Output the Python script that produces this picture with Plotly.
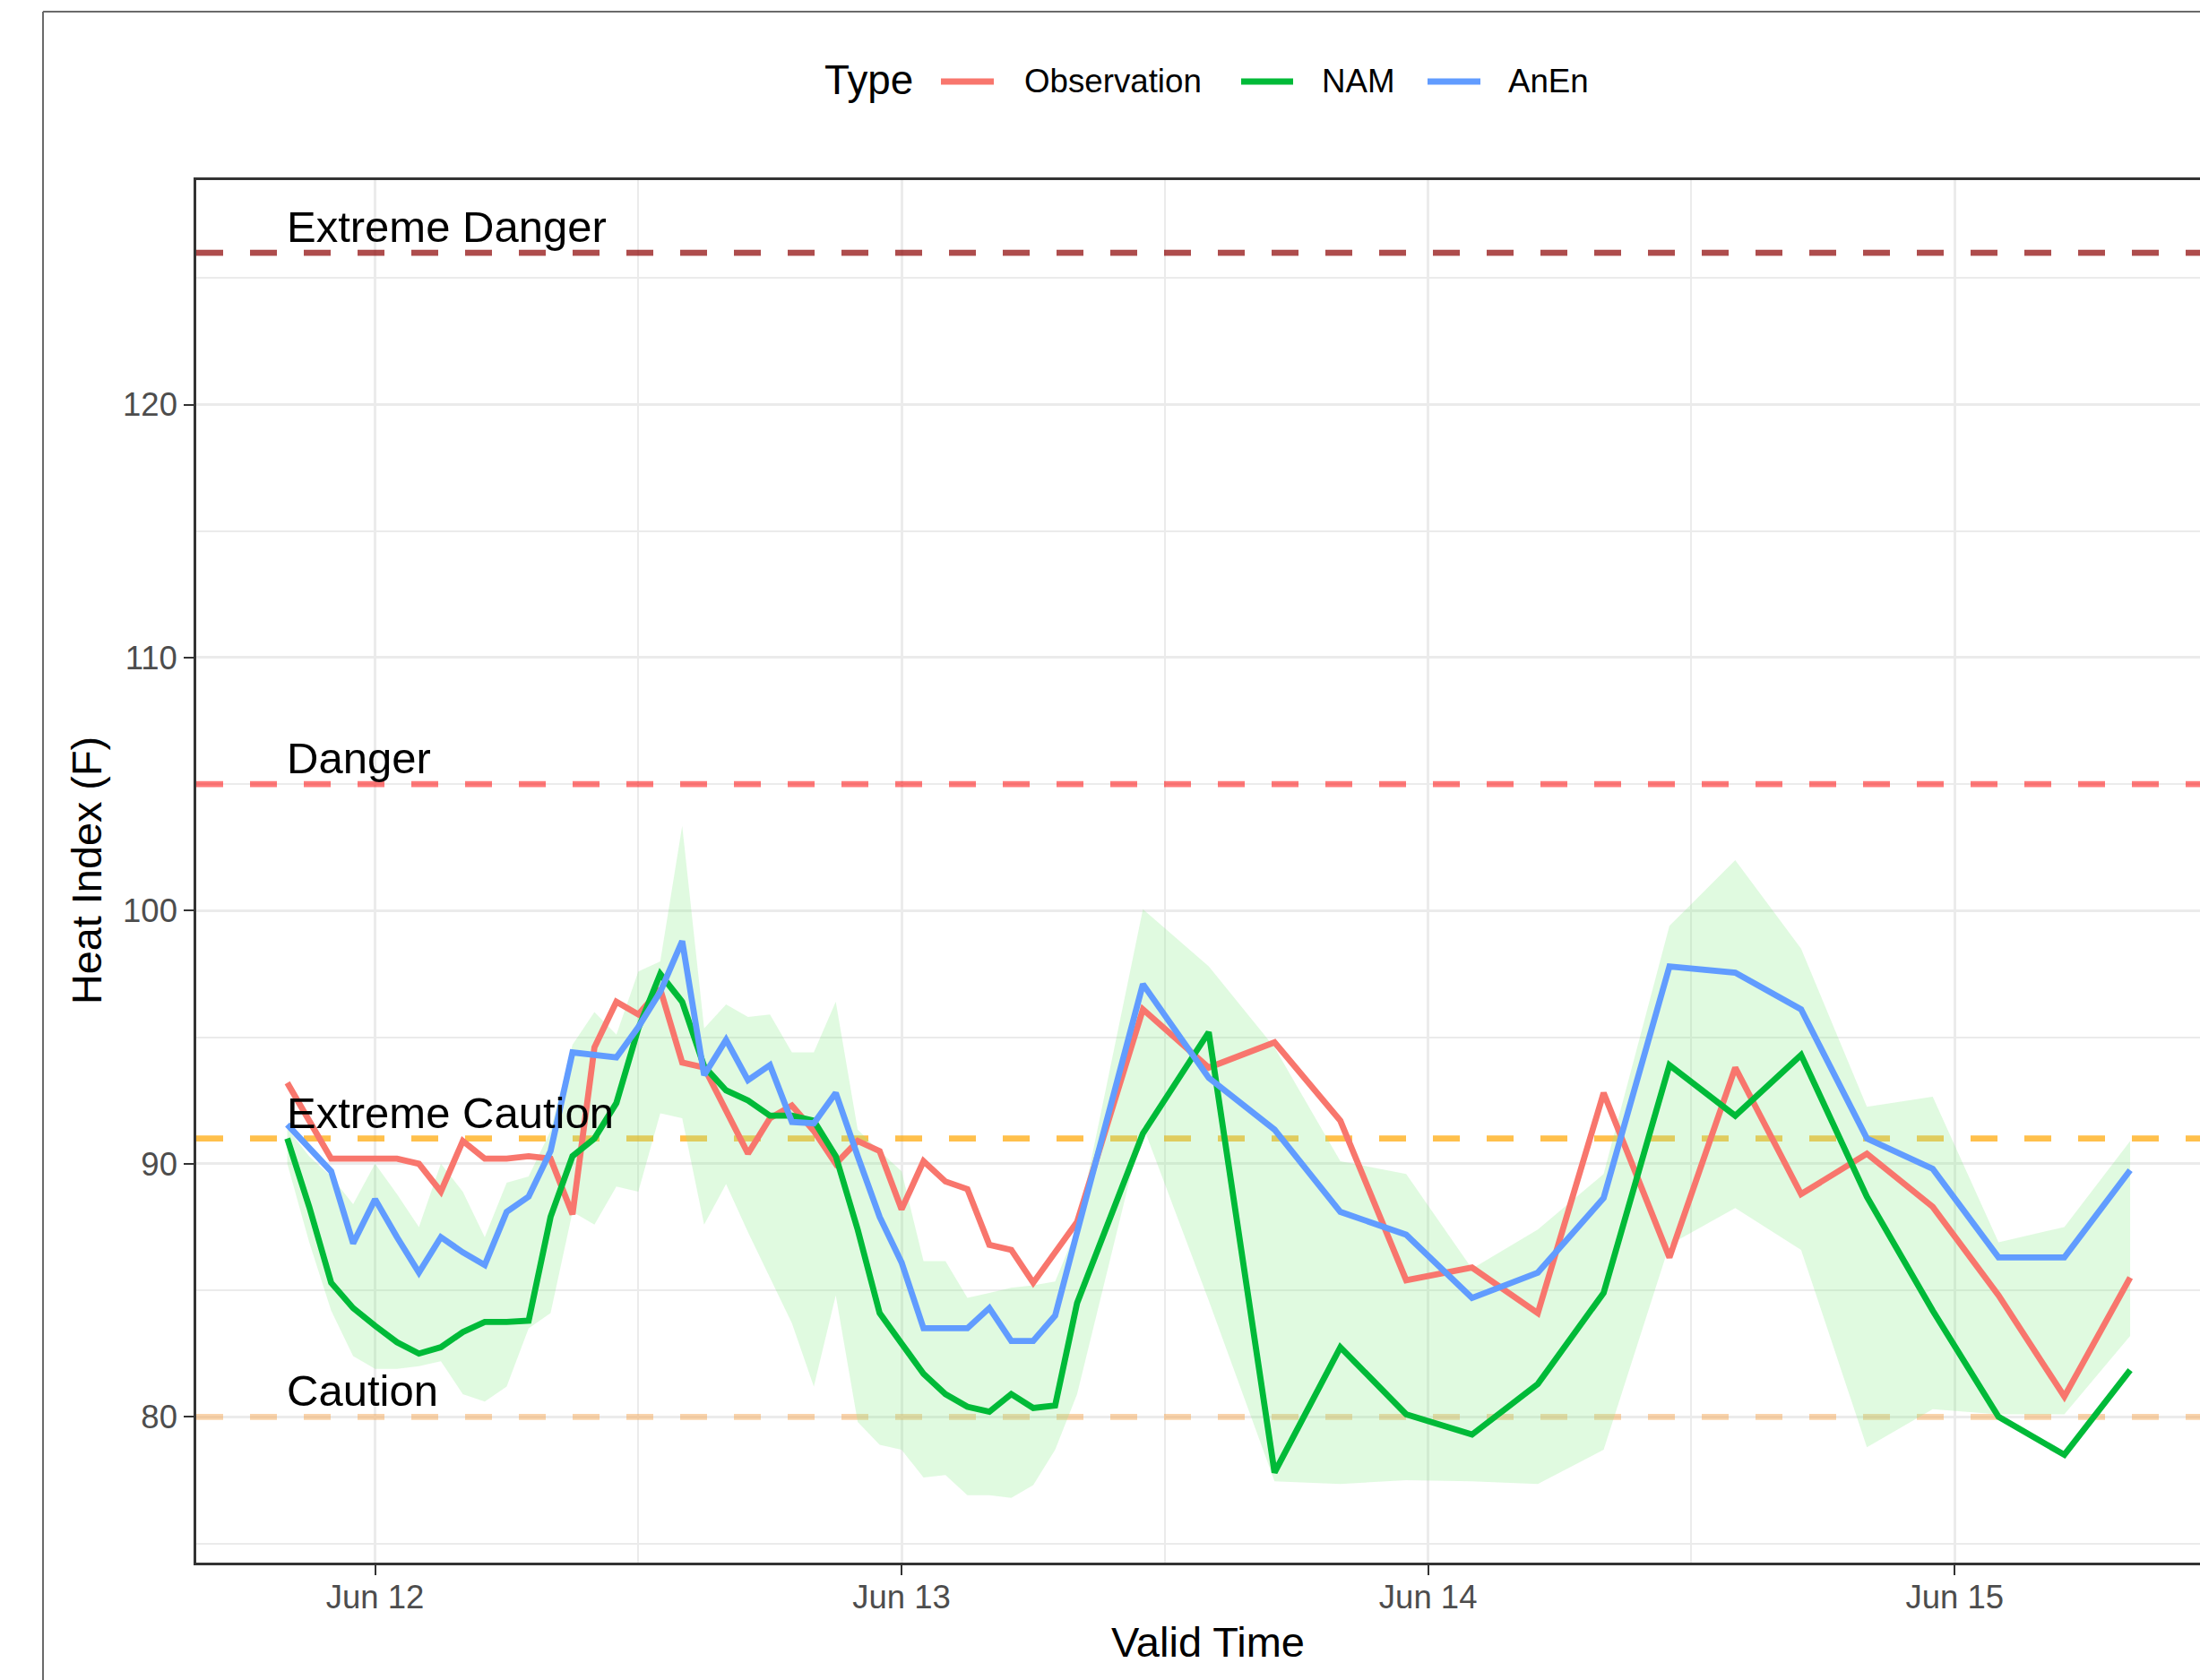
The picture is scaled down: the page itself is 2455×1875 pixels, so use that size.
import pandas as pd
import plotly.graph_objects as go

# ---- data -------------------------------------------------------------
# hourly valid times for the first 36 h, then every 3 h
valid_time = list(pd.date_range("2021-06-11 20:00", "2021-06-13 08:00", freq="1h")) + \
             list(pd.date_range("2021-06-13 11:00", "2021-06-15 08:00", freq="3h"))

observation = [93.2, 91.7, 90.2, 90.2, 90.2, 90.2, 90.0, 88.9, 90.9, 90.2, 90.2, 90.3,
               90.2, 88.0, 94.6, 96.4, 95.9, 96.9, 94.0, 93.8, 92.1, 90.4, 91.8, 92.3,
               91.3, 90.0, 90.9, 90.5, 88.2, 90.1, 89.3, 89.0, 86.8, 86.6, 85.3, 86.5,
               87.7,
               96.1, 93.8, 94.8, 91.7, 85.4, 85.9, 84.1, 92.8, 86.3, 93.8, 88.8, 90.4,
               88.3, 84.8, 80.8, 85.5]

nam = [91.0, 88.3, 85.3, 84.3, 83.6, 82.95, 82.5, 82.75, 83.35, 83.75, 83.75, 83.8,
       87.9, 90.3, 91.0, 92.4, 95.35, 97.5, 96.4, 93.85, 92.9, 92.5, 91.9, 91.9,
       91.7, 90.3, 87.4, 84.1, 82.9, 81.7, 80.9, 80.4, 80.2, 80.9, 80.35, 80.45,
       84.5,
       91.2, 95.2, 77.8, 82.75, 80.1, 79.3, 81.3, 84.9, 93.9, 91.9, 94.3, 88.7,
       84.2, 80.0, 78.5, 81.85]

anen = [91.55, 90.6, 89.7, 86.85, 88.6, 87.1, 85.7, 87.1, 86.5, 86.0, 88.1, 88.7,
        90.5, 94.4, 94.3, 94.2, 95.4, 96.8, 98.8, 93.5, 94.9, 93.3, 93.9, 91.65,
        91.6, 92.8, 90.3, 87.9, 86.1, 83.5, 83.5, 83.5, 84.3, 83.0, 83.0, 84.0,
        87.3,
        97.1, 93.4, 91.35, 88.1, 87.2, 84.7, 85.7, 88.65, 97.8, 97.55, 96.1, 91.0,
        89.8, 86.3, 86.3, 89.75]

# analog ensemble spread (band)
anen_upper = [91.4, 90.3, 89.5, 88.4, 90.0, 88.8, 87.5, 90.0, 88.9, 87.1, 89.25, 89.5,
              91.3, 94.7, 96.0, 95.1, 97.6, 98.0, 103.35, 95.35, 96.3, 95.8, 95.9, 94.4,
              94.4, 96.4, 91.35, 90.5, 89.7, 86.15, 86.15, 84.7, 84.9, 85.1, 85.2, 85.35,
              87.45,
              100.06, 97.8, 94.6, 90.1, 89.6, 85.85, 87.4, 89.6, 99.4, 102.0, 98.5, 92.25,
              92.65, 86.9, 87.5, 90.9]

anen_lower = [90.0, 86.9, 84.2, 82.4, 81.9, 81.9, 82.0, 82.2, 80.9, 80.6, 81.2, 83.5,
              84.1, 88.1, 87.6, 89.1, 88.9, 92.0, 91.8, 87.6, 89.2, 87.3, 85.5, 83.7,
              81.2, 84.8, 79.8, 78.9, 78.7, 77.6, 77.7, 76.9, 76.9, 76.8, 77.3, 78.7,
              80.9,
              91.5, 84.6, 77.45, 77.35, 77.5, 77.45, 77.35, 78.7, 86.8, 88.25, 86.6, 78.8,
              80.3, 80.1, 80.1, 83.2]

# heat index alert thresholds
threshold_names = ["Extreme Danger", "Danger", "Extreme Caution", "Caution"]
threshold_levels = [126, 105, 91, 80]
threshold_colors = ["rgba(139,0,0,0.7)", "rgba(255,0,0,0.52)",
                    "rgba(255,165,0,0.7)", "rgba(245,170,90,0.5)"]

series_names = ["Observation", "NAM", "AnEn"]
series_colors = ["#F8766D", "#00BA38", "#619CFF"]

# visible window of the time axis
X_RANGE = [pd.Timestamp("2021-06-11 15:51"), pd.Timestamp("2021-06-15 11:11")]
Y_RANGE = [74.24, 128.87]

# ---- geometry -----------------------------------------------------------
W, H = 2455, 1875
L, T, B, R = 219, 201, 1744, 2455
FONT = "Liberation Sans, Arial, Helvetica, sans-serif"
LW = 6.8


def px(x):
    return (x - L) / (R - L)


def py(y):
    return (B - y) / (B - T)


fig = go.Figure()

# threshold lines sit above the grid but beneath the band and the series
for name, lvl, col in zip(threshold_names, threshold_levels, threshold_colors):
    fig.add_trace(go.Scatter(x=X_RANGE, y=[lvl, lvl], mode="lines",
                             line=dict(color=col, width=LW, dash="30px,30px"),
                             hoverinfo="skip", showlegend=False, cliponaxis=True))

# ensemble band
fig.add_trace(go.Scatter(x=valid_time, y=anen_lower, mode="lines",
                         line=dict(width=0), hoverinfo="skip", showlegend=False))
fig.add_trace(go.Scatter(x=valid_time, y=anen_upper, mode="lines",
                         line=dict(width=0), fill="tonexty",
                         fillcolor="rgba(144,238,144,0.28)",
                         hoverinfo="skip", showlegend=False))

for name, vals, col in zip(series_names, [observation, nam, anen], series_colors):
    fig.add_trace(go.Scatter(x=valid_time, y=vals, mode="lines", name=name,
                             line=dict(color=col, width=LW), showlegend=False))

shapes = []
annotations = []

# threshold labels
for name, lvl in zip(threshold_names, threshold_levels):
    annotations.append(dict(text=name, x=valid_time[0], y=lvl, xref="x", yref="y",
                            xanchor="left", yanchor="bottom", showarrow=False,
                            xshift=-3, yshift=0,
                            font=dict(family=FONT, size=49, color="black")))

# outer frame
shapes.append(dict(type="line", xref="paper", yref="paper",
                   x0=px(48), x1=px(2600), y0=py(13), y1=py(13),
                   line=dict(color="#6a6a6a", width=2)))
shapes.append(dict(type="line", xref="paper", yref="paper",
                   x0=px(48), x1=px(48), y0=py(13), y1=py(2000),
                   line=dict(color="#6a6a6a", width=2)))

# legend
annotations.append(dict(text="Type", x=px(918), y=py(90), xref="paper", yref="paper",
                        xanchor="left", yanchor="middle", showarrow=False,
                        font=dict(family=FONT, size=45.8, color="black")))
key_spans = [(1050, 1109), (1385, 1443), (1593, 1652)]
text_left = [1141, 1473, 1681]
for name, col, (k0, k1), tx in zip(series_names, series_colors, key_spans, text_left):
    shapes.append(dict(type="line", xref="paper", yref="paper",
                       x0=px(k0), x1=px(k1), y0=py(91), y1=py(91),
                       line=dict(color=col, width=LW)))
    annotations.append(dict(text=name, x=px(tx), y=py(91), xref="paper", yref="paper",
                            xanchor="left", yanchor="middle", showarrow=False,
                            font=dict(family=FONT, size=36.7, color="black")))

# axis titles
annotations.append(dict(text="Valid Time", x=px(1348), y=py(1832), xref="paper",
                        yref="paper", xanchor="center", yanchor="middle",
                        showarrow=False, font=dict(family=FONT, size=47, color="black")))
annotations.append(dict(text="Heat Index (F)", x=px(97), y=py(972), xref="paper",
                        yref="paper", xanchor="center", yanchor="middle", textangle=-90,
                        showarrow=False, font=dict(family=FONT, size=46.8, color="black")))

fig.update_layout(
    width=W, height=H,
    margin=dict(l=L, r=W - R, t=T, b=H - B, pad=0),
    paper_bgcolor="white", plot_bgcolor="white",
    showlegend=False,
    font=dict(family=FONT, color="#4D4D4D"),
    shapes=shapes, annotations=annotations,
)

fig.update_xaxes(
    type="date", range=X_RANGE,
    tick0="2021-06-12", dtick=86400000, tickformat="%b %d",
    ticks="outside", ticklen=11, tickwidth=2.2, tickcolor="#333333",
    tickfont=dict(family=FONT, size=36.5, color="#4D4D4D"),
    ticklabelstandoff=-7,
    showline=True, linecolor="#333333", linewidth=2.5, mirror=True,
    showgrid=True, gridcolor="#EBEBEB", gridwidth=3.2, zeroline=False,
    minor=dict(tick0="2021-06-12 12:00", dtick=86400000, showgrid=True,
               gridcolor="#EBEBEB", gridwidth=1.6, ticks=""),
)
fig.update_yaxes(
    range=Y_RANGE, tick0=0, dtick=10,
    ticks="outside", ticklen=11, tickwidth=2.2, tickcolor="#333333",
    tickfont=dict(family=FONT, size=36.5, color="#4D4D4D"),
    showline=True, linecolor="#333333", linewidth=2.5, mirror=False,
    showgrid=True, gridcolor="#EBEBEB", gridwidth=3.2, zeroline=False,
    minor=dict(tick0=0, dtick=5, showgrid=True, gridcolor="#EBEBEB",
               gridwidth=1.6, ticks=""),
)

fig.write_html("out.html")
